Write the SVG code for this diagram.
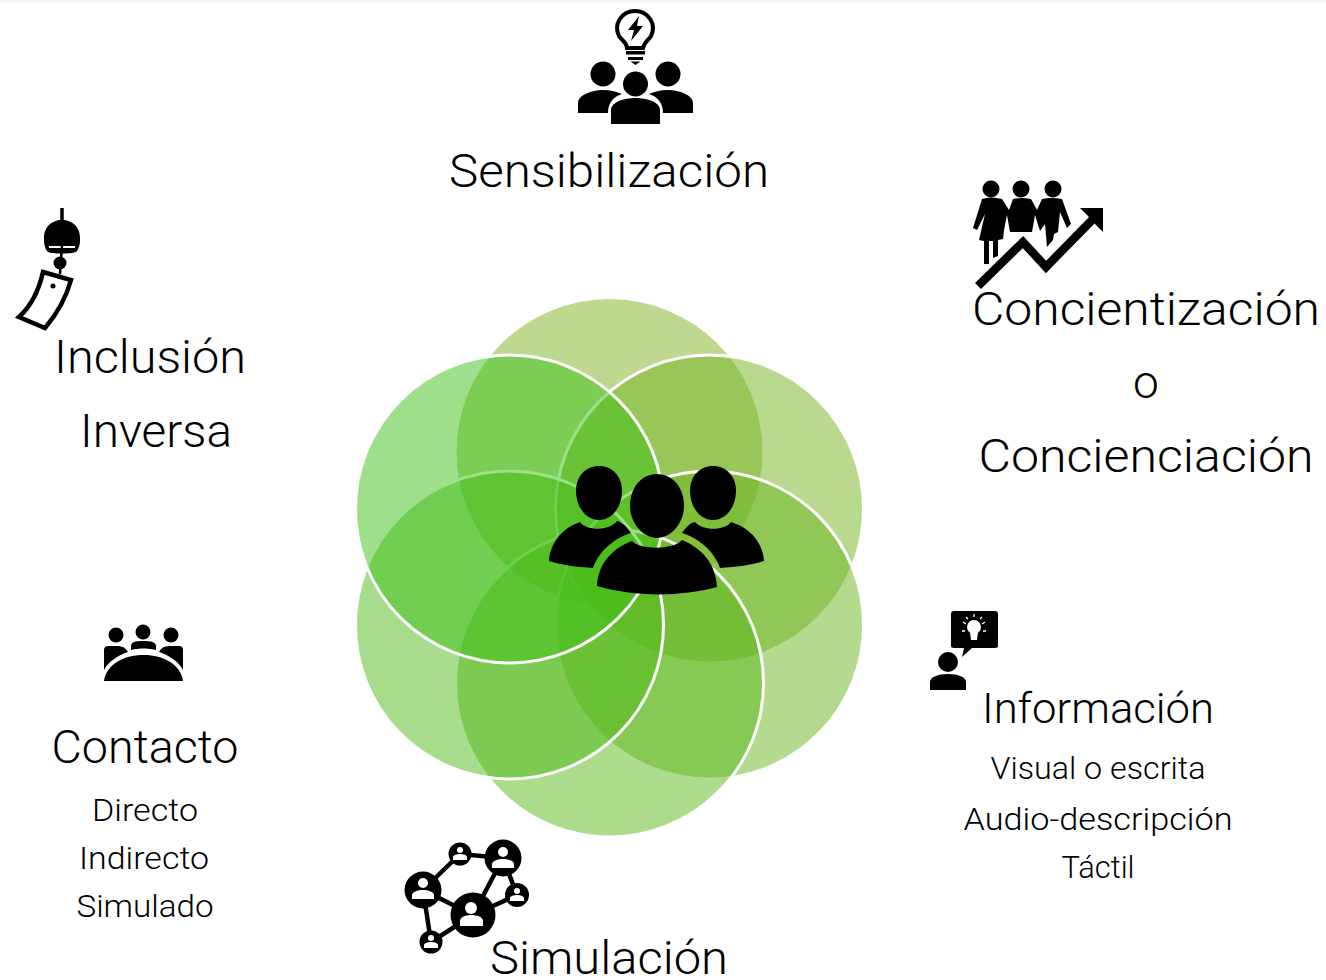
<svg xmlns="http://www.w3.org/2000/svg" width="1326" height="980" viewBox="0 0 1326 980">
<defs><linearGradient id="topfade" x1="0" y1="0" x2="0" y2="1"><stop offset="0" stop-color="#f1f1f1"/><stop offset="1" stop-color="#ffffff"/></linearGradient></defs>
<style>
text{font-family:"Roboto","Liberation Sans",sans-serif;font-weight:300;fill:#000;text-anchor:middle}
.big{font-size:46px}.mid{font-size:43px}.small{font-size:31px}
.petal{fill-opacity:.5;stroke:#fff;stroke-width:3}
.ic{fill:#000}
.ln{fill:none;stroke:#000}
.wh{fill:#fff}
</style>
<rect width="1326" height="980" fill="#fff"/>
<rect width="1326" height="5" fill="url(#topfade)"/>
<g id="petals">
<circle class="petal" cx="609.5" cy="452" r="153" fill="#7db121" style="stroke:none"/>
<circle class="petal" cx="709.500" cy="509" r="154" fill="#73b31f"/>
<circle class="petal" cx="709.500" cy="625" r="154" fill="#67b51d"/>
<circle class="petal" cx="609.5" cy="683" r="154" fill="#59b719"/>
<circle class="petal" cx="509.500" cy="625" r="154" fill="#4db917"/>
<circle class="petal" cx="509.500" cy="509" r="154" fill="#3bbf15"/>
</g>
<g id="center-people" class="ic">
<path d="M599 466C612 466 622 476 622 491C622 507 612 520 599 520C586 520 576 507 576 491C576 476 586 466 599 466Z"/>
<path d="M713 466C726 466 736 476 736 491C736 507 726 520 713 520C700 520 690 507 690 491C690 476 700 466 713 466Z"/>
<path d="M549 561C550 545 560 529 580 522C586 531 610 531 617 521C622 522 627 527 631 533C618 537 600 548 593 568C577 567 562 565 549 561Z"/>
<path d="M764 561C763 545 753 529 731 522C725 531 702 531 695 522C690 523 686 527 682 533C695 537 713 548 720 568C736 567 751 565 764 561Z"/>
<path d="M657 474C673 474 684 488 684 506C684 523 671 538 657 538C643 538 630 523 630 506C630 488 641 474 657 474Z"/>
<path d="M597 586C598 566 610 549 632 541C640 550 674 550 682 540C704 549 716 566 717 587C680 597 634 597 597 586Z"/>
</g>
<g id="sensibilizacion">
<g id="icon-sens">
<path class="ln" stroke-width="4" d="M627 48C627 42 622 41 619 36C613 24 622 11 635 11C648 11 657 24 651 36C648 41 644 42 643 48Z"/>
<path class="ic" d="M639 16L628 30L634 30L631 41L643 26L637 26Z"/>
<path class="ic" d="M626 51H645V54.500H626ZM628 57H643V60H628ZM630.500 61.500H640.500L635.500 65Z"/>
<circle class="ic" cx="603" cy="74" r="12.500"/><circle class="ic" cx="668" cy="74" r="12.500"/><circle class="ic" cx="635.500" cy="84" r="12.500"/>
<path class="ic" d="M578 113V103C578 95 592 90 603 90C611 90 617 92 622 94C613 97 608 103 608 113Z"/>
<path class="ic" d="M693 113V103C693 95 679 90 668 90C660 90 654 92 649 94C658 97 663 103 663 113Z"/>
<path class="ic" d="M611 124V110C611 102 624 98 635.500 98C647 98 660 102 660 110V124Z"/>
</g>
<text class="big" x="609" y="187" textLength="320" lengthAdjust="spacingAndGlyphs">Sensibilización</text>
</g>
<g id="concientizacion">
<g id="icon-conc" class="ic">
<circle cx="991" cy="189" r="8.500"/><circle cx="1021" cy="189" r="8.500"/><circle cx="1053" cy="189" r="8.500"/>
<path d="M982 199Q991 196 1002 199L1009 210L1013 199Q1022 197 1031 199L1037 210L1042 199Q1052 197 1062 199L1071 224L1067 228L1060 212L1058 232L1054 234L1053 240L1047 247L1045 224L1040 231L1035 215L1032 232L1010 232L1007 215L1004 230L1003 239L998 240V256L993 258V241H989V264H984V241L979 240L985 214L977 230L973 228Z"/>
<path class="ln" stroke-width="8.500" d="M978 286L1023 242L1046 267L1095 217"/>
<path d="M1080 208H1103V232L1095 224L1088 216Z"/>
</g>
<text class="big" x="1146" y="325" textLength="348" lengthAdjust="spacingAndGlyphs">Concientización</text>
<text class="big" x="1146" y="398">o</text>
<text class="big" x="1146" y="472" textLength="335" lengthAdjust="spacingAndGlyphs">Concienciación</text>
</g>
<g id="inclusion">
<g id="icon-bell">
<path class="ln" stroke-width="3.500" d="M62 208V222"/>
<path class="ic" d="M44 240C43 228 51 220 62 220C73 220 81 228 80 240C80 246 78 250 76 252C70 254 52 254 48 252C46 250 44 246 44 240Z"/>
<path d="M49 247H75" stroke="#fff" stroke-width="2" fill="none"/>
<path class="ln" stroke-width="2.500" d="M62 245L60 274"/>
<circle class="ic" cx="60" cy="263" r="6.500"/>
<path class="ln" stroke-width="4.500" d="M43 272L71 280C66 298 56 315 45 328L19 317C31 306 39 290 43 272Z"/>
<circle class="ic" cx="53" cy="286" r="2.500"/>
</g>
<text class="big" x="150" y="373" textLength="192" lengthAdjust="spacingAndGlyphs">Inclusión</text>
<text class="big" x="156" y="447" textLength="152" lengthAdjust="spacingAndGlyphs">Inversa</text>
</g>
<g id="contacto">
<g id="icon-table" class="ic">
<circle cx="116" cy="635" r="7.500"/><circle cx="143" cy="632" r="7.500"/><circle cx="171" cy="635" r="7.500"/>
<path d="M104 650C104 648 105 646 108 646H118C124 646 127 650 128 652C118 655 108 662 104 670Z"/>
<path d="M183 650C183 648 182 646 179 646H169C163 646 160 650 159 652C169 655 179 662 183 670Z"/>
<path d="M131 650V646C131 642 135 641 143 641C151 641 156 642 156 646V650C148 648 139 648 131 650Z"/>
<path d="M104 681C106 665 123 655 143.500 655C164 655 181 665 183 681Z"/>
</g>
<text class="big" x="145" y="763" textLength="187" lengthAdjust="spacingAndGlyphs">Contacto</text>
<text class="small" x="145" y="821" textLength="106" lengthAdjust="spacingAndGlyphs">Directo</text>
<text class="small" x="144" y="869" textLength="130" lengthAdjust="spacingAndGlyphs">Indirecto</text>
<text class="small" x="145" y="917" textLength="137" lengthAdjust="spacingAndGlyphs">Simulado</text>
</g>
<g id="simulacion">
<g id="icon-net">
<path class="ln" stroke-width="4.500" d="M423 890L460 854L503 858L473 915L423 890L431 942L473 915L517 895L503 858"/>
<circle class="ic" cx="473" cy="915" r="22.500"/><circle class="ic" cx="423" cy="890" r="18.500"/><circle class="ic" cx="503" cy="858" r="18.500"/>
<circle class="ic" cx="460" cy="854" r="11.500"/><circle class="ic" cx="517" cy="895" r="12"/><circle class="ic" cx="431" cy="942" r="11.500"/>
<g class="wh">
<circle cx="471" cy="908" r="6"/><path d="M460 926V921C460 917 466 915 471 915C477 915 483 917 483 921V926Z"/>
<circle cx="423" cy="883" r="5"/><path d="M412 899V895C412 892 418 890 423 890C428 890 434 892 434 895V899Z"/>
<circle cx="503" cy="852" r="5"/><path d="M492 868V864C492 861 498 859 503 859C508 859 514 861 514 864V868Z"/>
<circle cx="460" cy="850" r="3"/><path d="M453 860V857C453 855 457 854 460 854C463 854 467 855 467 857V860Z"/>
<circle cx="517" cy="891" r="3"/><path d="M510 901V898C510 896 514 895 517 895C520 895 524 896 524 898V901Z"/>
<circle cx="431" cy="938" r="3"/><path d="M424 948V945C424 943 428 942 431 942C434 942 438 943 438 945V948Z"/>
</g>
</g>
<text class="big" x="609" y="974" textLength="238" lengthAdjust="spacingAndGlyphs">Simulación</text>
</g>
<g id="informacion">
<g id="icon-info">
<path class="ic" d="M954 611H995C997 611 998 612 998 614V646C998 647 997 648 995 648H972L962 657L964 648H954C952 648 951 647 951 646V614C951 612 952 611 954 611Z"/>
<circle class="wh" cx="974" cy="627" r="7"/>
<path class="wh" d="M970 632H978L977 640H971Z"/>
<path d="M974 614V617M963 622L966 624M985 622L982 624M962 631H965M983 631H986M966 617L968 619M982 617L980 619" stroke="#fff" stroke-width="1.300" fill="none"/>
<circle class="ic" cx="948" cy="662" r="10"/>
<path class="ic" d="M930 690V682C930 677 938 674 948 674C958 674 966 677 966 682V690Z"/>
</g>
<text class="mid" x="1098" y="723" textLength="232" lengthAdjust="spacingAndGlyphs">Información</text>
<text class="small" x="1098" y="779" textLength="215" lengthAdjust="spacingAndGlyphs">Visual o escrita</text>
<text class="small" x="1098" y="830" textLength="269" lengthAdjust="spacingAndGlyphs">Audio-descripción</text>
<text class="small" x="1098" y="878" textLength="73" lengthAdjust="spacingAndGlyphs">Táctil</text>
</g>
</svg>
